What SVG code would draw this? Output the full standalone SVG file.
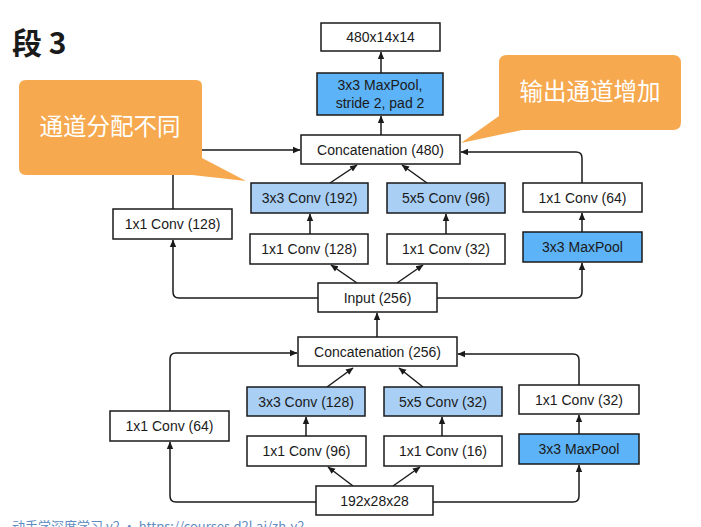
<svg xmlns="http://www.w3.org/2000/svg" width="701" height="527" viewBox="0 0 701 527">
<defs>
<marker id="arr" markerWidth="8" markerHeight="8" refX="7" refY="4" orient="auto" markerUnits="userSpaceOnUse">
<path d="M0,0.8 L7.5,4 L0,7.2 Z" fill="#1a1a1a"/>
</marker>
<style>
.box{fill:#ffffff;stroke:#1a1a1a;stroke-width:1.5}
.lb{fill:#a9cff5;stroke:#1a1a1a;stroke-width:1.5}
.db{fill:#5db3f7;stroke:#1a1a1a;stroke-width:1.5}
.t{font-family:"Liberation Sans","Helvetica",Arial,sans-serif;font-size:14px;fill:#1a1a1a;text-anchor:middle}
.c{fill:none;stroke:#1a1a1a;stroke-width:1.5;marker-end:url(#arr)}
.callout{fill:#f6a94e}
.ct{font-family:"Noto Sans CJK SC",sans-serif;font-size:23.5px;fill:#ffffff;text-anchor:middle}
</style>
</defs>
<rect width="701" height="527" fill="#ffffff"/>
<text x="12" y="54" font-family="Noto Sans CJK SC,sans-serif" font-size="30" font-weight="bold" fill="#1a1a1a">段 3</text>

<g id="connectors">
<path class="c" d="M381,135 V116"/>
<path class="c" d="M381,73 V52"/>
<path class="c" d="M330,183 L357,165"/>
<path class="c" d="M427,183 L402,165"/>
<path class="c" d="M310,234 V214"/>
<path class="c" d="M446,234 V214"/>
<path class="c" d="M582,232 V213"/>
<path class="c" d="M357,283 L331,265"/>
<path class="c" d="M397,283 L423,265"/>
<path class="c" d="M318,298 H179 Q173,298 173,292 V240"/>
<path class="c" d="M173,209 V156 Q173,150 179,150 H300"/>
<path class="c" d="M437,298 H576 Q582,298 582,292 V263"/>
<path class="c" d="M582,183 V158 Q582,152 576,152 H461"/>
<path class="c" d="M377,337 V313"/>
<path class="c" d="M327,387 L353,368"/>
<path class="c" d="M423,387 L399,368"/>
<path class="c" d="M306,436 V417"/>
<path class="c" d="M442,436 V417"/>
<path class="c" d="M579,434 V415"/>
<path class="c" d="M353,486 L328,467"/>
<path class="c" d="M393,486 L420,467"/>
<path class="c" d="M316,502 H176 Q170,502 170,496 V442"/>
<path class="c" d="M170,411 V359 Q170,353 176,353 H297"/>
<path class="c" d="M433,502 H573 Q579,502 579,496 V465"/>
<path class="c" d="M579,385 V360 Q579,354 573,354 H458"/>
</g>

<g id="n-out"><rect class="box" x="321" y="23" width="119" height="28"/><text class="t" x="380.5" y="42">480x14x14</text></g>
<g id="n-pool3"><rect class="db" x="317" y="73" width="126" height="42"/><text class="t" x="380" y="90">3x3 MaxPool,</text><text class="t" x="380" y="108">stride 2, pad 2</text></g>
<g id="n-concat480"><rect class="box" x="301" y="135" width="159" height="29"/><text class="t" x="380.5" y="154.5" font-size="14.5">Concatenation (480)</text></g>
<g id="n-b1a"><rect class="box" x="113" y="209" width="119" height="30"/><text class="t" x="172.5" y="229">1x1 Conv (128)</text></g>
<g id="n-b2b"><rect class="lb" x="251" y="183" width="117" height="30"/><text class="t" x="309.5" y="203">3x3 Conv (192)</text></g>
<g id="n-b3b"><rect class="lb" x="387" y="183" width="118" height="30"/><text class="t" x="446" y="203">5x5 Conv (96)</text></g>
<g id="n-b4b"><rect class="box" x="523" y="183" width="119" height="29"/><text class="t" x="582.5" y="202.5">1x1 Conv (64)</text></g>
<g id="n-b2a"><rect class="box" x="250" y="234" width="118" height="30"/><text class="t" x="309" y="254">1x1 Conv (128)</text></g>
<g id="n-b3a"><rect class="box" x="387" y="234" width="118" height="30"/><text class="t" x="446" y="254">1x1 Conv (32)</text></g>
<g id="n-b4a"><rect class="db" x="523" y="232" width="119" height="30"/><text class="t" x="582.5" y="252">3x3 MaxPool</text></g>
<g id="n-input"><rect class="box" x="318" y="283" width="119" height="29"/><text class="t" x="377.5" y="302.5">Input (256)</text></g>

<g id="n-concat256"><rect class="box" x="298" y="337" width="159" height="29"/><text class="t" x="377.5" y="356.5" font-size="14.5">Concatenation (256)</text></g>
<g id="n-c1a"><rect class="box" x="110" y="411" width="119" height="30"/><text class="t" x="169.5" y="431">1x1 Conv (64)</text></g>
<g id="n-c2b"><rect class="lb" x="247" y="387" width="118" height="29"/><text class="t" x="306" y="406.5">3x3 Conv (128)</text></g>
<g id="n-c3b"><rect class="lb" x="384" y="387" width="118" height="29"/><text class="t" x="443" y="406.5">5x5 Conv (32)</text></g>
<g id="n-c4b"><rect class="box" x="519" y="385" width="120" height="29"/><text class="t" x="579" y="404.5">1x1 Conv (32)</text></g>
<g id="n-c2a"><rect class="box" x="247" y="436" width="119" height="30"/><text class="t" x="306.5" y="456">1x1 Conv (96)</text></g>
<g id="n-c3a"><rect class="box" x="384" y="436" width="118" height="30"/><text class="t" x="443" y="456">1x1 Conv (16)</text></g>
<g id="n-c4a"><rect class="db" x="519" y="434" width="120" height="30"/><text class="t" x="579" y="454">3x3 MaxPool</text></g>
<g id="n-in192"><rect class="box" x="316" y="486" width="117" height="29"/><text class="t" x="374.5" y="505.5">192x28x28</text></g>

<g id="callout-left">
<path class="callout" d="M26,80 H196 Q202,80 202,86 V158 L246,181 L192,175 H26 Q19,175 19,168 V87 Q19,80 26,80 Z"/>
<text class="ct" x="110" y="135">通道分配不同</text>
</g>
<g id="callout-right">
<path class="callout" d="M507,55 H673 Q681,55 681,63 V122 Q681,130 673,130 H522 L461,143 L499,116 V63 Q499,55 507,55 Z"/>
<text class="ct" x="590" y="100" font-size="24">输出通道增加</text>
</g>

<text x="12" y="531" font-family="Noto Sans CJK SC,Liberation Sans,sans-serif" font-size="13" fill="#5f8cc0">动手学深度学习 v2 • https://courses.d2l.ai/zh-v2</text>
</svg>
